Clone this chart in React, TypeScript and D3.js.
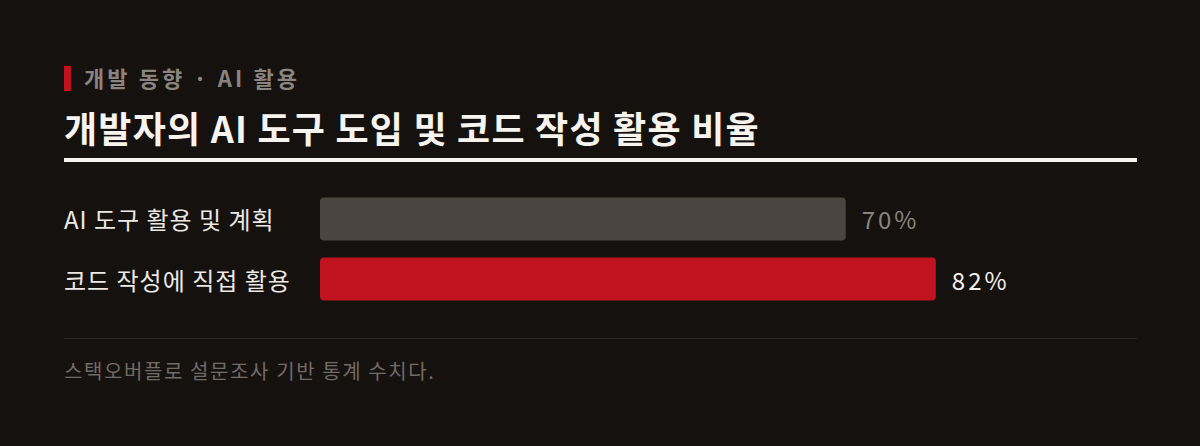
import React, { useEffect, useRef } from "react";
import * as d3 from "d3";

const categories = ["AI 도구 활용 및 계획", "코드 작성에 직접 활용"];
const values = [70, 82];
const barColors = ["#4b4540", "#c0131f"];
const valueColors = ["#8a8480", "#f5f1ec"];
const kicker = "개발 동향 · AI 활용";
const title = "개발자의 AI 도구 도입 및 코드 작성 활용 비율";
const footnote = "스택오버플로 설문조사 기반 통계 수치다.";

const W = 1200;
const H = 446;
const FONT = "'Noto Sans CJK KR', 'Noto Sans', sans-serif";

export default function App() {
  const ref = useRef<SVGSVGElement | null>(null);

  useEffect(() => {
    const svg = d3.select(ref.current);
    svg.selectAll("*").remove();
    svg.attr("viewBox", `0 0 ${W} ${H}`).style("font-family", FONT);

    svg.append("rect").attr("width", W).attr("height", H).attr("fill", "#14110f");

    // header
    svg.append("rect").attr("x", 64).attr("y", 66).attr("width", 7).attr("height", 25).attr("fill", "#c0131f");
    svg.append("text").attr("x", 84).attr("y", 87)
      .attr("font-size", 22).attr("font-weight", 700).attr("letter-spacing", 3.1)
      .attr("fill", "#8a8480").text(kicker);
    svg.append("text").attr("x", 64).attr("y", 143)
      .attr("font-size", 36).attr("font-weight", 700).attr("letter-spacing", 1.2)
      .attr("fill", "#f7f3ee").text(title);
    svg.append("rect").attr("x", 64).attr("y", 158).attr("width", 1073).attr("height", 4).attr("fill", "#f7f3ee");

    // bars
    const x = d3.scaleLinear().domain([0, 100]).range([320, 1071]);
    const y = d3.scaleBand().domain(categories).range([189, 309]).paddingInner(0.283).paddingOuter(0.14);

    const g = svg.append("g");
    g.selectAll("rect.bar")
      .data(categories)
      .enter()
      .append("rect")
      .attr("class", "bar")
      .attr("x", x(0))
      .attr("y", d => y(d) as number)
      .attr("width", (d, i) => x(values[i]) - x(0))
      .attr("height", y.bandwidth())
      .attr("rx", 4)
      .attr("fill", (d, i) => barColors[i]);

    g.selectAll("text.cat")
      .data(categories)
      .enter()
      .append("text")
      .attr("class", "cat")
      .attr("x", 64)
      .attr("y", d => (y(d) as number) + y.bandwidth() / 2)
      .attr("dominant-baseline", "central")
      .attr("font-size", 24)
      .attr("letter-spacing", 1)
      .attr("fill", "#ece8e3")
      .text(d => d);

    g.selectAll("text.val")
      .data(categories)
      .enter()
      .append("text")
      .attr("class", "val")
      .attr("x", (d, i) => x(values[i]) + 16)
      .attr("y", d => (y(d) as number) + y.bandwidth() / 2)
      .attr("dominant-baseline", "central")
      .attr("font-size", 24)
      .attr("letter-spacing", 3)
      .attr("fill", (d, i) => valueColors[i])
      .text((d, i) => `${values[i]}%`);

    // footer
    svg.append("rect").attr("x", 64).attr("y", 338).attr("width", 1073).attr("height", 1).attr("fill", "#2c2825");
    svg.append("text").attr("x", 64).attr("y", 379)
      .attr("font-size", 20).attr("letter-spacing", 1.6).attr("fill", "#716b66").text(footnote);
  }, []);

  return (
    <div style={{ position: "fixed", left: 0, top: 0, width: W, height: H }}>
      <svg ref={ref} width={W} height={H} style={{ display: "block" }} />
    </div>
  );
}
